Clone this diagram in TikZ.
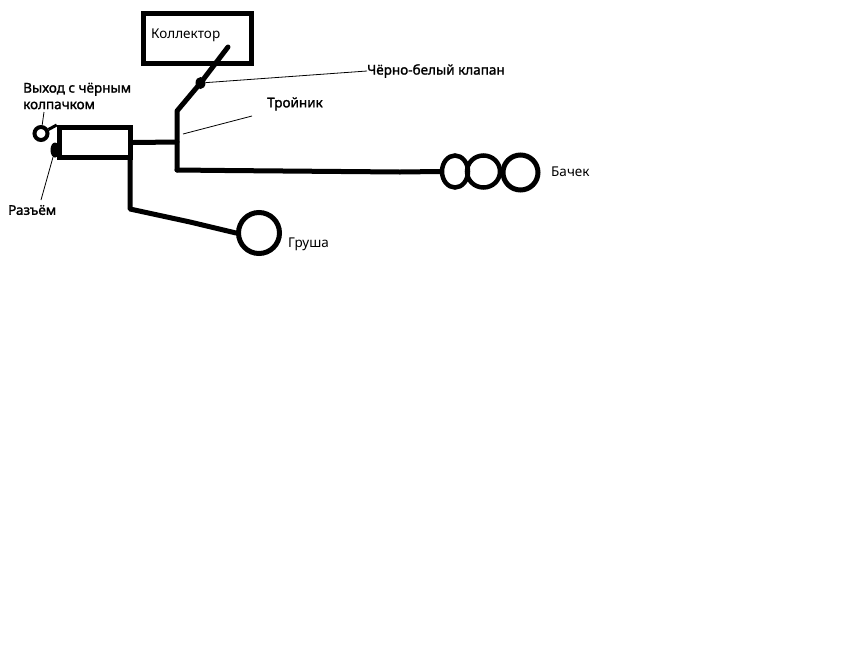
\documentclass[tikz,border=0pt]{standalone}
\usepackage{fontspec}
\setmainfont{Noto Sans}
\newfontfamily\tagfont[FakeBold=1.6]{Noto Sans}
\usetikzlibrary{positioning, calc, shapes.geometric}
\tikzset{
  every picture/.style={x=1pt, y=-1pt},
  pipe/.style={line width=5pt, line join=round, line cap=round},
  unit/.style={draw, line width=#1, inner sep=0pt, rectangle},
  unit/.default=5pt,
  ball/.style={draw, line width=5pt, inner sep=0pt, circle},
  leader/.style={draw, line width=0.8pt},
  plain/.style={font=\fontsize{13.5}{15}\selectfont, anchor=west, inner sep=0pt, align=left},
  tag/.style={plain, font=\tagfont\fontsize{13.5}{16.5}\selectfont},
}
\begin{document}
\begin{tikzpicture}
  \useasboundingbox (0,0) rectangle (852,654);
  % units
  \node[unit, minimum width=108pt, minimum height=50pt] (collector) at (197,38) {};
  \node[unit, minimum width=71.5pt, minimum height=30pt] (filter) at (95,142.5) {};
  \node[ball, minimum size=41pt] (pear) at (259,233) {};
  \node[draw, line width=4.5pt, ellipse, inner sep=0pt, minimum width=26pt, minimum height=32pt] (tankA) at (455,171.5) {};
  \node[draw, line width=4.5pt, ellipse, inner sep=0pt, minimum width=33pt, minimum height=32pt] (tankB) at (483.5,171.5) {};
  \node[ball, minimum size=35pt] (tankC) at (520.5,172.5) {};
  \node[draw, circle, line width=4pt, inner sep=0pt, minimum size=13pt] (outlet) at (41,133.5) {};
  \node[fill, ellipse, inner sep=0pt, minimum width=10pt, minimum height=12pt] (valve) at (200.5,83) {};
  \node[fill, ellipse, inner sep=0pt, minimum width=9pt, minimum height=15pt] (socket) at (55,150) {};
  % pipes
  \coordinate (teetop) at (177,111);
  \coordinate (teemid) at (177,142);
  \coordinate (teelow) at (177,170);
  \coordinate (inlet) at (228,47);
  \coordinate (bend) at (130,209);
  \draw[pipe] (inlet) -- (valve.center) -- (teetop) -- (teemid) -- (teelow);
  \draw[pipe] (filter.east) -- (teemid);
  \draw[pipe] (teelow) -- (225,170.5) -- (400,172) -- (tankA.west);
  \draw[pipe] (filter.south -| bend) -- (bend) -- (190,222) -- (pear.west);
  \draw[line width=3pt] (outlet) -- (filter.north west);
  % labels
  \node[plain] (collectorname) at (151,35) {Коллектор};
  \node[tag] (valvename) at (367,71) {Чёрно-белый клапан};
  \node[tag] (teename) at (267,104) {Тройник};
  \node[tag] (outletname) at (23,96) {Выход с чёрным\\колпачком};
  \node[tag] (socketname) at (8,210) {Разъём};
  \node[plain] (tankname) at (551,172) {Бачек};
  \node[plain] (pearname) at (288,244) {Груша};
  % leaders
  \coordinate (teeend) at (183,134);
  \coordinate (teestart) at (252,116);
  \draw[leader] (valve) -- (valvename.west);
  \draw[leader] (teeend) -- (teestart);
  \draw[leader] (outlet) -- (44,112);
  \draw[leader] (socket) -- (41,200);
\end{tikzpicture}
\end{document}
